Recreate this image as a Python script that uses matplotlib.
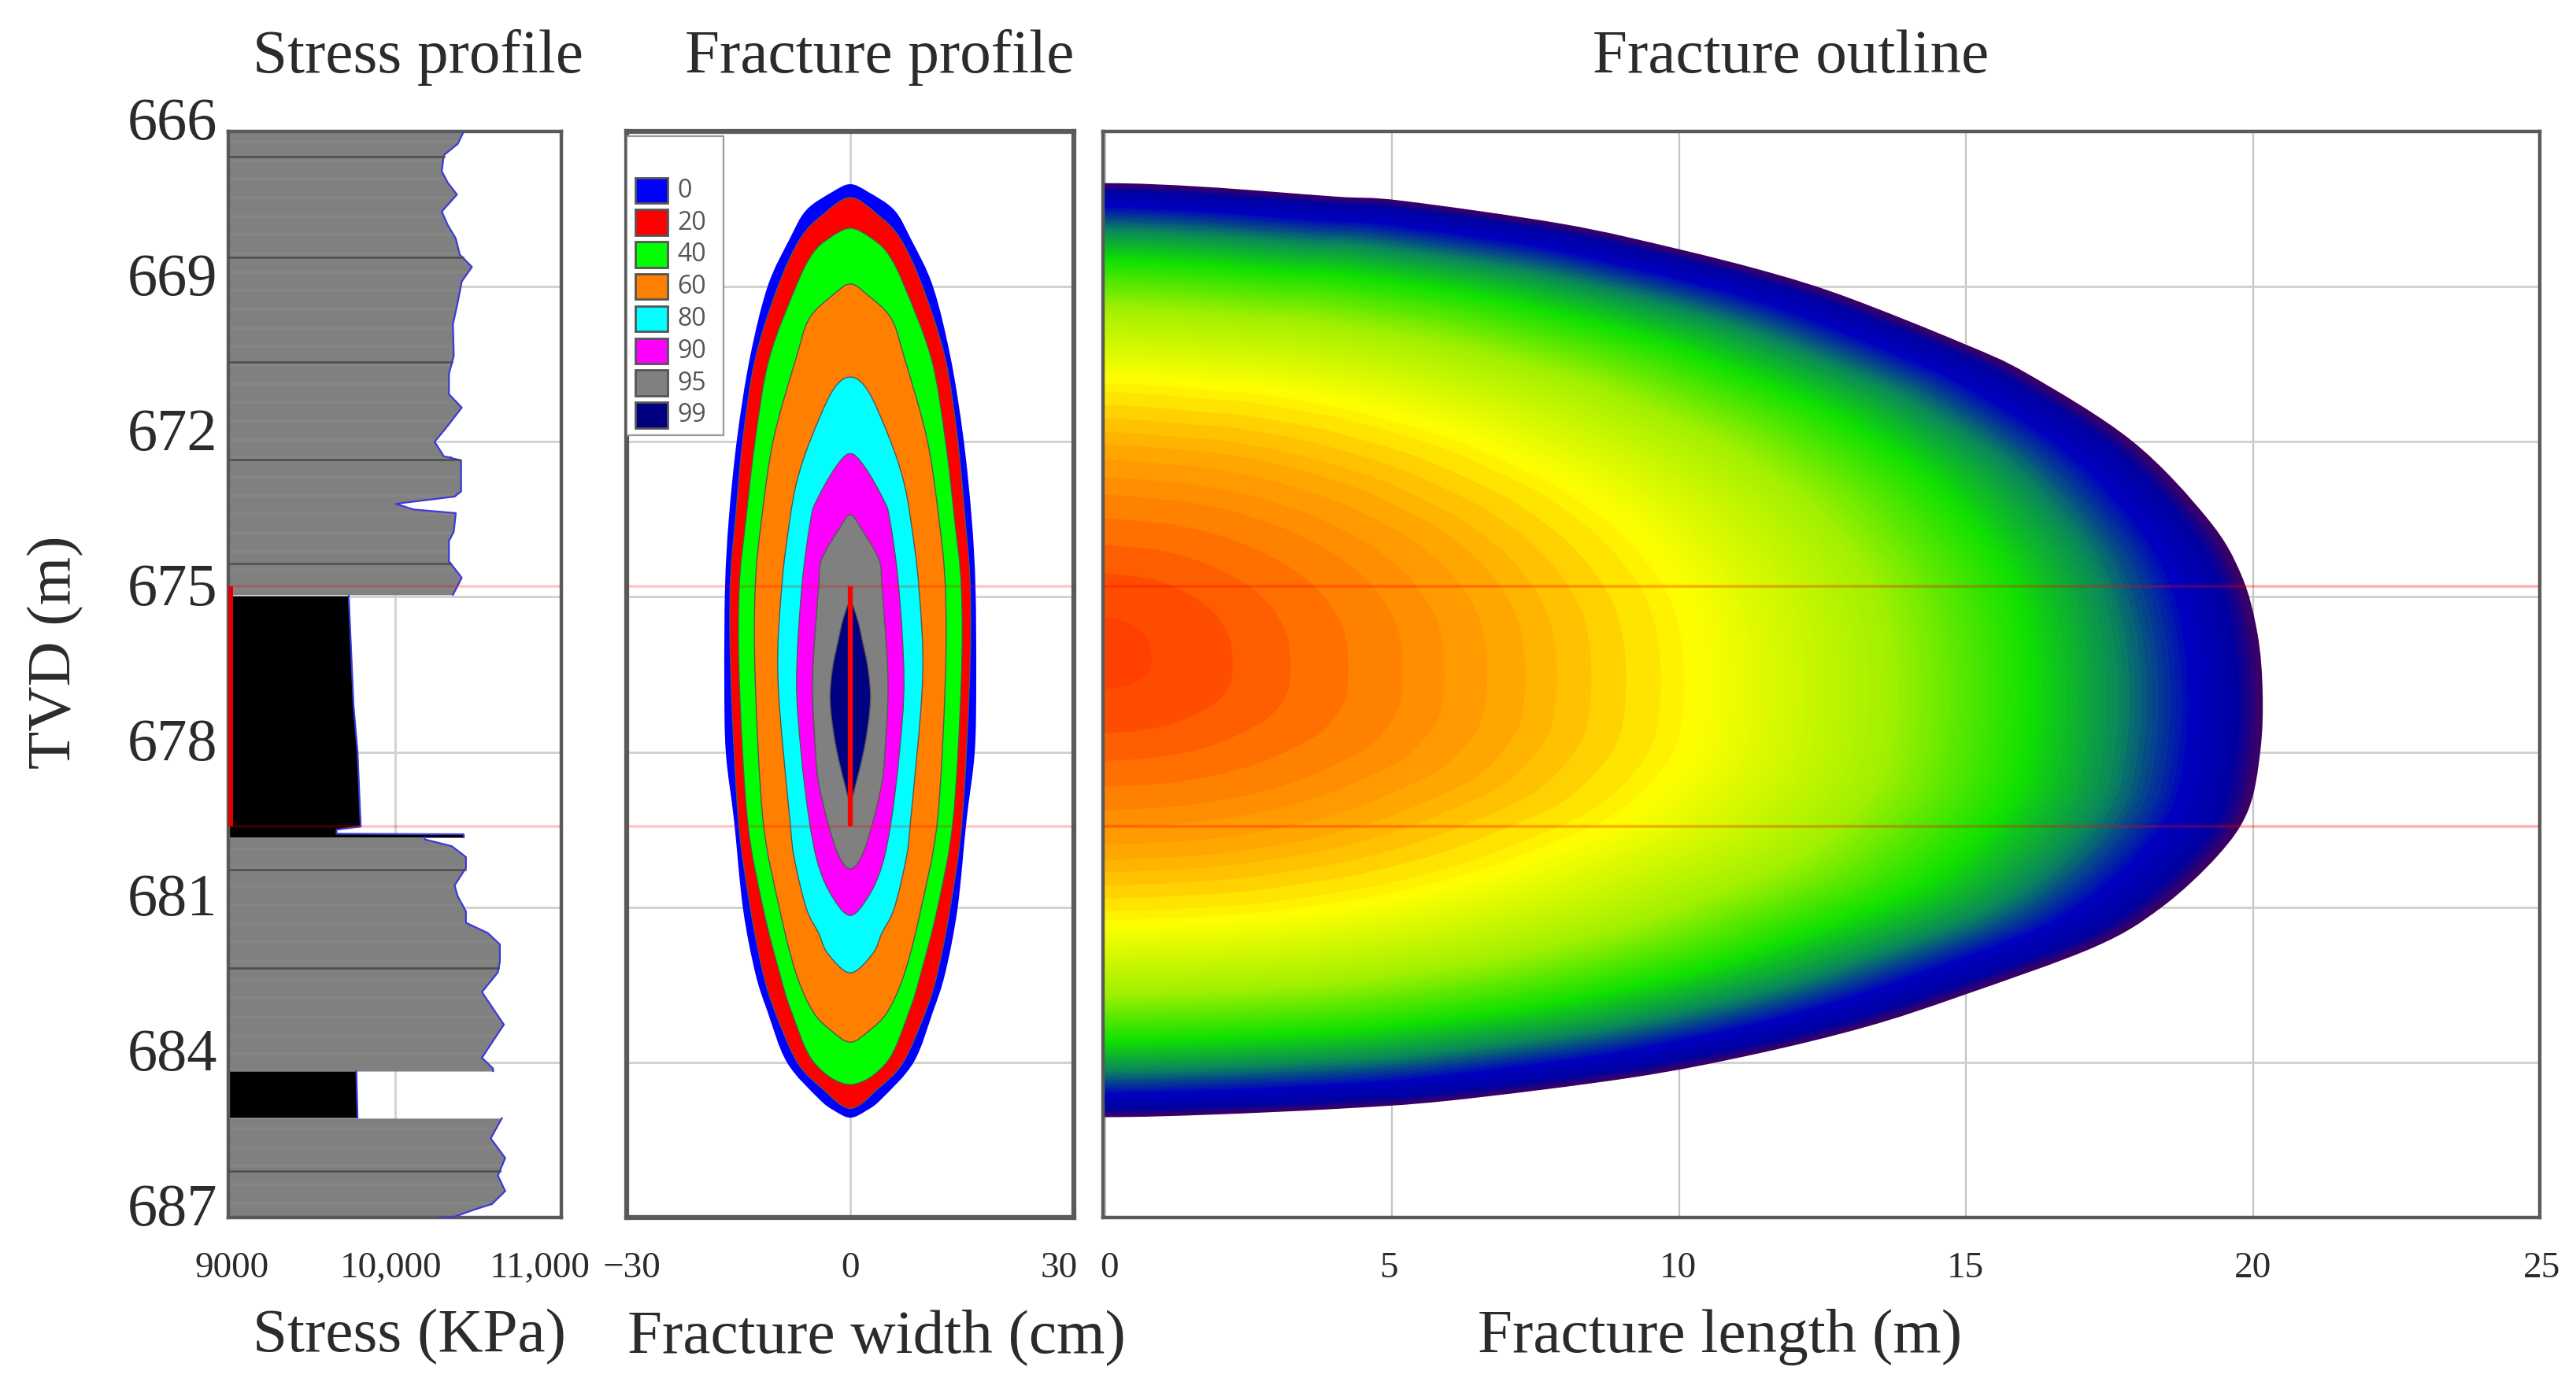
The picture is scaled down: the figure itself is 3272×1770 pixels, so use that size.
import numpy as np
import matplotlib
matplotlib.use("Agg")
import matplotlib.pyplot as plt
from matplotlib.colors import LinearSegmentedColormap
from matplotlib.patches import Rectangle, PathPatch
from matplotlib.path import Path
from matplotlib.transforms import ScaledTranslation

plt.rcParams['font.family'] = ['Liberation Serif', 'DejaVu Serif']

W, H = 3272, 1770
TXT = '#2b2b2b'

depth_ticks = [666, 669, 672, 675, 678, 681, 684, 687]
stress_ticks = [9000, 10000, 11000]
stress_ticklabels = ['9000', '10,000', '11,000']
width_ticks = [-30, 0, 30]
width_ticklabels = ['\u221230', '0', '30']
length_ticks = [0, 5, 10, 15, 20, 25]

# perforation top / bottom (red lines)
red_depths = [674.8, 679.44]

# stress profile, (depth m, stress kPa)
gray1_d = [666.0, 666.24, 666.46, 666.77, 666.99, 667.22, 667.55, 667.81, 668.07, 668.38, 668.62, 668.9,
           669.3, 669.73, 670.34, 670.69, 671.08, 671.34, 671.74, 672.0, 672.28, 672.36, 672.96, 673.06,
           673.11, 673.2, 673.31, 673.38, 673.74, 673.92, 674.31, 674.63, 674.96]
gray1_s = [10414, 10378, 10294, 10282, 10318, 10373, 10282, 10318, 10366, 10390, 10463, 10402,
           10378, 10349, 10354, 10325, 10325, 10402, 10306, 10239, 10294, 10398, 10398, 10359,
           10234, 10005, 10113, 10366, 10354, 10325, 10325, 10402, 10349]
black1_d = [674.98, 677.1, 678.0, 679.44, 679.5, 679.58, 679.59, 679.65]
black1_s = [9723, 9752, 9776, 9795, 9650, 9650, 10414, 10414]
gray2_d = [679.65, 679.69, 679.82, 680.03, 680.24, 680.58, 680.79, 681.08, 681.3, 681.5, 681.72, 682.05,
           682.26, 682.64, 683.27, 683.91, 684.12, 684.17]
gray2_s = [10181, 10181, 10342, 10427, 10427, 10359, 10378, 10427, 10427, 10559, 10631, 10631,
           10619, 10523, 10655, 10523, 10590, 10590]
black2_d = [684.17, 685.07]
black2_s = [9769, 9776]
gray3_d = [685.08, 685.47, 685.85, 686.19, 686.49, 686.74, 686.85, 686.99, 687.0]
gray3_s = [10643, 10576, 10663, 10619, 10663, 10583, 10475, 10354, 10258]
layer_lines = [666.48, 668.44, 670.46, 672.35, 674.35, 680.27, 682.18, 686.1]

# fracture width contours, half width in cm at each depth
legend_levels = ['0', '20', '40', '60', '80', '90', '95', '99']
level_colors = ['#0000ff', '#ff0000', '#00ff00', '#ff8000', '#00ffff', '#ff00ff', '#808080', '#000080']
c0_d = [667.02, 667.17, 667.52, 668.07, 669.0, 670.4, 671.95, 673.5, 674.81, 676.61, 678.0, 679.32, 681.02, 682.27, 683.02, 684.0, 684.7, 684.93, 685.07]
c0_w = [0, 2.4, 5.9, 8.1, 11.1, 13.5, 15.2, 16.3, 16.8, 16.9, 16.7, 15.6, 14.4, 12.75, 11.1, 8.5, 4.25, 2.2, 0]
c20_d = [667.28, 667.6, 668.07, 669.0, 670.4, 671.95, 673.5, 674.81, 676.61, 679.32, 681.02, 682.27, 683.02, 684.0, 684.5, 684.89]
c20_w = [0, 3.6, 6.7, 9.7, 12.75, 14.4, 15.4, 16.1, 16.0, 15.0, 13.4, 11.7, 10.1, 7.1, 3.8, 0]
c40_d = [667.87, 668.07, 668.37, 669.0, 670.4, 671.95, 673.5, 674.81, 676.61, 679.32, 681.02, 682.27, 683.02, 684.0, 684.43]
c40_w = [0, 2.9, 5.1, 7.3, 10.9, 12.75, 14.0, 14.9, 14.9, 13.8, 11.7, 9.5, 7.9, 4.9, 0]
c60_d = [668.95, 669.16, 669.62, 670.4, 671.95, 673.5, 674.81, 676.61, 679.32, 681.02, 682.27, 683.02, 683.38, 683.61]
c60_w = [0, 2.3, 5.5, 7.3, 10.3, 11.9, 12.75, 12.75, 11.7, 9.5, 7.3, 5.0, 2.6, 0]
c80_d = [670.75, 671.02, 671.95, 672.73, 673.5, 674.81, 676.61, 679.32, 680.06, 681.02, 681.5, 681.9, 682.27]
c80_w = [0, 2.4, 5.3, 7.1, 8.1, 9.2, 9.7, 8.1, 7.5, 5.9, 4.25, 3.0, 0]
c90_d = [672.23, 672.5, 673.12, 673.5, 674.81, 676.61, 678.0, 679.32, 680.2, 680.8, 681.16]
c90_w = [0, 2.0, 4.45, 5.3, 6.5, 7.2, 6.6, 5.5, 4.25, 2.4, 0]
c95_d = [673.41, 673.66, 674.28, 674.81, 676.61, 678.0, 678.59, 679.32, 679.99, 680.26]
c95_w = [0, 1.4, 3.85, 4.25, 5.06, 4.65, 4.25, 3.1, 1.6, 0]
c99_d = [675.1, 675.45, 675.83, 676.4, 677.03, 677.84, 678.59, 678.94]
c99_w = [0, 1.0, 1.6, 2.4, 2.7, 2.0, 0.8, 0]

# fracture outline, length in m at each depth
out_d = [667.0, 667.07, 667.26, 667.34, 667.79, 668.27, 668.74, 669.21, 670.09, 670.69, 671.99, 673.5, 674.58,
         675.71, 676.85, 677.98, 679.12, 680.0, 681.01, 681.77, 682.71, 683.31, 683.85, 684.3, 684.74, 684.9,
         685.01, 685.06]
out_l = [0, 1.7, 4.02, 5.17, 7.98, 9.97, 11.62, 12.94, 14.93, 16.08, 17.9, 19.22, 19.8,
         20.08, 20.17, 20.13, 19.92, 19.39, 18.4, 17.24, 14.93, 13.27, 11.29, 9.14, 6.0, 4.02,
         1.87, 0]
out_center = 676.1
# colour bands read along the fracture axis
band_levels = [0, .04, .11, .16, .21, .257, .293, .33, .363, .39, .42, .45, .48]
ramp_pos = [0, .11, .21, .33, .42, .51, .68, .8, .875, .94, .98, 1]
ramp_col = ['#ff3c00', '#ff5500', '#ff7a00', '#ffa000', '#ffc800', '#ffff00', '#a0f000', '#10e000',
            '#0a8a58', '#0000c0', '#0000a0', '#400060']


def add_panel(x0, x1, y0=167, y1=1547, spine=3.2):
    ax = fig.add_axes([x0 / W, 1 - y1 / H, (x1 - x0) / W, (y1 - y0) / H])
    ax.set_ylim(687, 666)
    ax.set_yticks(depth_ticks)
    ax.set_axisbelow(True)
    ax.grid(True, color='#cfcfcf', lw=2.0)
    ax.tick_params(length=0, labelleft=False, labelsize=34, pad=31, colors=TXT)
    for s in ax.spines.values():
        s.set_color('#5a5a5a')
        s.set_linewidth(spine)
    return ax


def shift_labels(ax, shifts):
    for lab, dx in zip(ax.get_xticklabels(), shifts):
        lab.set_transform(lab.get_transform() + ScaledTranslation(dx / 100, 0, fig.dpi_scale_trans))


def red_marks(ax):
    for d in red_depths:
        ax.axhline(d, color='#ff0000', alpha=0.22, lw=2.6, zorder=6)


def lens_path(d_, w_):
    # closed curve through the read points, right side down and left side back up
    d_, w_ = list(d_), list(w_)
    pts = np.column_stack([w_ + [-v for v in w_[-2:0:-1]], d_ + d_[-2:0:-1]])
    n = len(pts)
    verts = [pts[0]]
    codes = [Path.MOVETO]
    for i in range(n):
        p0, p1, p2, p3 = pts[i - 1], pts[i], pts[(i + 1) % n], pts[(i + 2) % n]
        verts += [p1 + (p2 - p0) / 6, p2 - (p3 - p1) / 6, p2]
        codes += [Path.CURVE4] * 3
    return Path(verts, codes)


fig = plt.figure(figsize=(W / 100, H / 100), dpi=100, facecolor='white')

# ---- stress
ax1 = add_panel(290, 713)
ax1.set_xlim(9000, 11000)
ax1.set_xticks(stress_ticks, stress_ticklabels)
shift_labels(ax1, [5, -5, -27])
for d_, s_, col in [(gray1_d, gray1_s, '#808080'), (black1_d, black1_s, 'black'), (gray2_d, gray2_s, '#808080'),
                    (black2_d, black2_s, 'black'), (gray3_d, gray3_s, '#808080')]:
    ax1.fill_betweenx(d_, 9000, s_, color=col, lw=0, zorder=2)
    ax1.plot(s_, d_, color='#3a3ad8', lw=1.6, zorder=3)
all_d = gray1_d + gray2_d + gray3_d
all_s = gray1_s + gray2_s + gray3_s
# faint banding of the gray fill
for d in np.arange(666.2, 687, 0.36):
    if 674.97 < d < 679.65 or 684.17 < d < 685.07:
        continue
    ax1.plot([9000, np.interp(d, all_d, all_s) - 15], [d, d], color='#858585', lw=3, zorder=2.5)
for d in layer_lines:
    ax1.plot([9000, np.interp(d, all_d, all_s)], [d, d], color='#4d4d4d', lw=1.8, zorder=4)
ax1.fill_betweenx(red_depths, 9000, 9030, color='#e00000', lw=0, zorder=5)
red_marks(ax1)
ax1.tick_params(axis='y', labelleft=True, labelsize=55, pad=10)
for lab in ax1.get_yticklabels():
    lab.set_transform(lab.get_transform() + ScaledTranslation(0, 16 / 100, fig.dpi_scale_trans))

# ---- width
ax2 = add_panel(796, 1364, spine=4.5)
ax2.set_xlim(-30, 30)
ax2.set_xticks(width_ticks, width_ticklabels)
shift_labels(ax2, [7, 0, -19])
contours = [(c0_d, c0_w), (c20_d, c20_w), (c40_d, c40_w), (c60_d, c60_w), (c80_d, c80_w), (c90_d, c90_w),
            (c95_d, c95_w), (c99_d, c99_w)]
for (d_, w_), col in zip(contours, level_colors):
    edge = 'none' if col == '#0000ff' else '#555555'
    ax2.add_patch(PathPatch(lens_path(d_, w_), facecolor=col, edgecolor=edge, lw=1.0, zorder=2))
ax2.plot([0, 0], red_depths, color='#ff0000', lw=4.5, zorder=5, solid_capstyle='butt')
red_marks(ax2)

# legend box, in axes fractions
ax2.add_patch(Rectangle((0.0, 0.72), 0.2157, 0.276, transform=ax2.transAxes, fc='white', ec='#9a9a9a', lw=1.6, zorder=7))
for i, (lab, col) in enumerate(zip(legend_levels, level_colors)):
    yy = 0.9576 - 0.02957 * i - 0.0236
    ax2.add_patch(Rectangle((0.019, yy), 0.072, 0.0236, transform=ax2.transAxes, fc=col, ec='#555555', lw=2.0, zorder=8))
    ax2.text(0.113, yy + 0.0115, lab, transform=ax2.transAxes, family=['Open Sans', 'DejaVu Sans'], fontsize=23,
             color='#555555', va='center', ha='left', zorder=8)

# ---- outline
ax3 = add_panel(1401, 3226)
ax3.grid(True, axis='x', color='#c4c4c4', lw=1.6)
ax3.set_xlim(-0.04, 25)
ax3.set_xticks(length_ticks)
shift_labels(ax3, [5, -4, -1, -1, 0, 3])
# nested copies of the outline, outermost first; the left half falls outside the axes
levels = np.array(band_levels + list(np.arange(0.5, 1.0, 0.005)) + [1.0])
ramp = LinearSegmentedColormap.from_list('frac', list(zip(ramp_pos, ramp_col)), N=512)
for k in range(len(levels) - 1, 0, -1):
    s = levels[k]
    col = ramp((levels[k - 1] + s) / 2)
    ring_d = out_center + s ** 0.8 * (np.array(out_d) - out_center)
    ring_l = s * np.array(out_l)
    ax3.add_patch(PathPatch(lens_path(ring_d, ring_l), facecolor=col, edgecolor='none', zorder=2))
red_marks(ax3)
for ln in ax3.get_lines():
    ln.set_alpha(0.3)

# ---- text
for txt, x in [('Stress profile', 531), ('Fracture profile', 1117), ('Fracture outline', 2275)]:
    fig.text(x / W, 1 - 73 / H, txt, fontsize=57, color=TXT, ha='center', va='center')
for txt, x in [('Stress (KPa)', 520), ('Fracture width (cm)', 1113), ('Fracture length (m)', 2185)]:
    fig.text(x / W, 1 - 1699 / H, txt, fontsize=57, color=TXT, ha='center', va='center')
fig.text(71 / W, 1 - 829 / H, 'TVD (m)', fontsize=57, color=TXT, rotation=90, ha='center', va='center')

fig.savefig('out.png', dpi=100)
